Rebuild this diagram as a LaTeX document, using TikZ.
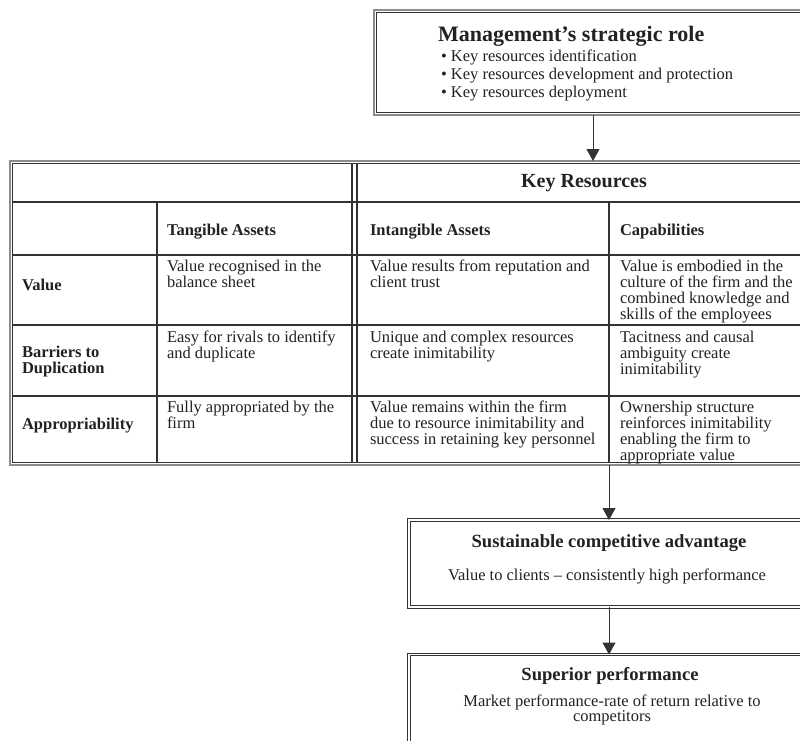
\documentclass[tikz,border=0pt]{standalone}
\usepackage{fontspec}
\setmainfont{Liberation Serif}
\usetikzlibrary{arrows.meta,calc}

\definecolor{ink}{HTML}{222222}
\definecolor{rule}{HTML}{333333}
\definecolor{edge}{HTML}{8C8C8C}

% one node per printed line, 16pt apart
\newcommand\textlines[5]{%
  \foreach \ln [count=\k] in {#5}{%
    \node[#1] (#2-\k) at ({#3},{#4+16*(\k-1)}) {\ln};}}

\tikzset{
  txt/.style={anchor=base west, inner sep=0pt, outer sep=0pt, text=ink,
    font=\fontsize{16.5}{16}\selectfont},
  txtb/.style={txt, font=\bfseries\fontsize{16.5}{16}\selectfont},
  ctr/.style={anchor=base, inner sep=0pt, outer sep=0pt, text=ink,
    font=\fontsize{16.5}{16}\selectfont},
  ctrb/.style={ctr, font=\bfseries\fontsize{18.6}{18}\selectfont},
  outerframe/.style={draw=edge, line width=1.6pt, inner sep=0pt, outer sep=0pt},
  dblframe/.style={draw=rule, line width=1pt, double=white, double distance=1.4pt,
    inner sep=0pt, outer sep=0pt},
  grid/.style={draw=rule, line width=1.2pt},
  link/.style={draw=rule, line width=1pt, -{Triangle[width=13pt,length=12pt]}}
}

\begin{document}
\begin{tikzpicture}[x=1pt,y=-1pt]
\useasboundingbox (0,0) rectangle (800,740);
\fill[white] (0,0) rectangle (800,740);
\clip (0,0) rectangle (800,740);

% ---- management box ----
\node[outerframe, minimum width=438pt, minimum height=105pt] (mgmt) at (593,62.5) {};
\draw[rule, line width=1.1pt] ($(mgmt.north west)+(2.6,2.6)$) rectangle ($(mgmt.south east)+(-2.6,-2.6)$);
\node[txtb, font=\bfseries\fontsize{22}{22}\selectfont] (mgmt-title) at (438,41) {Management’s strategic role};
\node[txt] (mgmt-b1) at (441,61) {• Key resources identification};
\node[txt] (mgmt-b2) at (441,79) {• Key resources development and protection};
\node[txt] (mgmt-b3) at (441,97) {• Key resources deployment};

% ---- key resources table ----
\node[outerframe, minimum width=802pt, minimum height=304pt] (tbl) at (411,313) {};
\draw[rule, line width=1.1pt] ($(tbl.north west)+(2.6,2.6)$) rectangle ($(tbl.south east)+(-2.6,-2.6)$);
\foreach \yy in {202,255,325,396}{\draw[grid] (12,\yy) -- (812,\yy);}
\draw[grid] (157,202) -- (157,463);
\draw[grid] (352,163) -- (352,463);
\draw[grid] (357,163) -- (357,463);
\draw[grid] (609,202) -- (609,463);

\node[txtb, anchor=base, font=\bfseries\fontsize{20}{20}\selectfont] (kr) at (584,187) {Key Resources};
\node[txtb] (h-tang) at (167,235) {Tangible Assets};
\node[txtb] (h-intang) at (370,235) {Intangible Assets};
\node[txtb] (h-cap) at (620,235) {Capabilities};

% row: value
\node[txtb] (r-value) at (22,290) {Value};
\textlines{txt}{v-tang}{167}{271}{Value recognised in the,balance sheet}
\textlines{txt}{v-intang}{370}{271}{Value results from reputation and,client trust}
\textlines{txt}{v-cap}{620}{271}{Value is embodied in the,culture of the firm and the,combined knowledge and,skills of the employees}

% row: barriers to duplication
\textlines{txtb}{r-barr}{22}{357}{Barriers to,Duplication}
\textlines{txt}{b-tang}{167}{342}{Easy for rivals to identify,and duplicate}
\textlines{txt}{b-intang}{370}{342}{Unique and complex resources,create inimitability}
\textlines{txt}{b-cap}{620}{342}{Tacitness and causal,ambiguity create,inimitability}

% row: appropriability
\node[txtb] (r-appr) at (22,429) {Appropriability};
\textlines{txt}{a-tang}{167}{412}{Fully appropriated by the,firm}
\textlines{txt}{a-intang}{370}{412}{Value remains within the firm,due to resource inimitability and,success in retaining key personnel}
\textlines{txt}{a-cap}{620}{412}{Ownership structure,reinforces inimitability,enabling the firm to,appropriate value}

% ---- outcome boxes ----
\node[dblframe, minimum width=400pt, minimum height=87pt] (sca) at (609,563.5) {};
\node[ctrb] (sca-title) at (609,547) {Sustainable competitive advantage};
\node[ctr] (sca-text) at (607,580) {Value to clients – consistently high performance};

\node[dblframe, minimum width=400pt, minimum height=147pt] (sp) at (609,728) {};
\node[ctrb] (sp-title) at (610,680) {Superior performance};
\node[ctr] (sp-text1) at (612,706) {Market performance-rate of return relative to};
\node[ctr] (sp-text2) at (612,721) {competitors};

% ---- connectors ----
\draw[link] (mgmt.south) -- (mgmt.south |- tbl.north);
\draw[link] (tbl.south -| sca.north) -- (sca.north);
\draw[link] (sca.south) -- (sp.north);
\end{tikzpicture}
\end{document}
